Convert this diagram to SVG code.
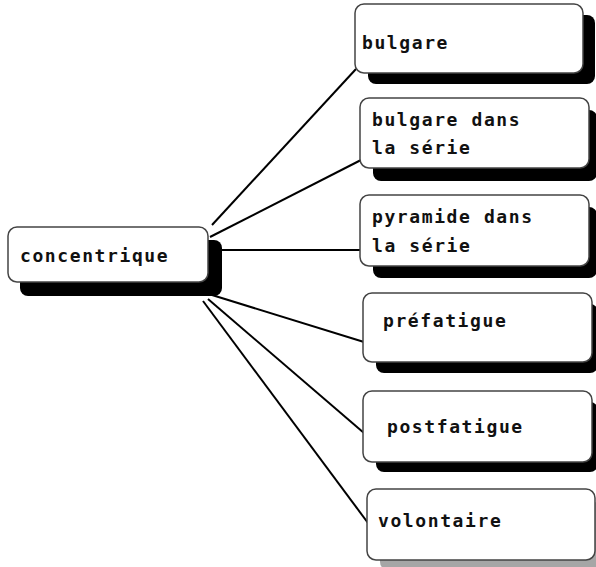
<svg xmlns="http://www.w3.org/2000/svg" width="596" height="567" viewBox="0 0 596 567">
<style>
.box{fill:#fff;stroke:#444;stroke-width:1.5}
.sh{fill:#000}
.t{font-family:"DejaVu Sans Mono","Liberation Mono",monospace;font-size:18px;font-weight:bold;letter-spacing:1.6px;fill:#111}
.c{stroke:#000;stroke-width:2;fill:none}
</style>
<rect width="596" height="567" fill="#fff"/>
<g id="connectors">
<line class="c" x1="212" y1="225" x2="356" y2="69"/>
<line class="c" x1="210" y1="237" x2="361" y2="160"/>
<line class="c" x1="208" y1="250" x2="361" y2="250"/>
<line class="c" x1="212" y1="295" x2="364" y2="342"/>
<line class="c" x1="208" y1="299" x2="364" y2="433"/>
<line class="c" x1="203" y1="301" x2="368" y2="523"/>
</g>
<g id="concentrique">
<rect class="sh" x="20" y="240" width="202" height="56" rx="8"/>
<rect class="box" x="8" y="227" width="200" height="55" rx="9"/>
<text class="t" x="20" y="262">concentrique</text>
</g>
<g id="bulgare">
<rect class="sh" x="368" y="15" width="227" height="69" rx="8"/>
<rect class="box" x="355" y="4" width="228" height="69" rx="9"/>
<text class="t" x="362" y="49">bulgare</text>
</g>
<g id="bulgare-dans">
<rect class="sh" x="373" y="110" width="224" height="71" rx="8"/>
<rect class="box" x="360" y="98" width="229" height="70" rx="9"/>
<text class="t" x="372" y="126">bulgare dans</text>
<text class="t" x="372" y="154">la série</text>
</g>
<g id="pyramide-dans">
<rect class="sh" x="373" y="207" width="224" height="71" rx="8"/>
<rect class="box" x="360" y="195" width="229" height="71" rx="9"/>
<text class="t" x="372" y="223">pyramide dans</text>
<text class="t" x="372" y="252">la série</text>
</g>
<g id="prefatigue">
<rect class="sh" x="376" y="304" width="222" height="69" rx="8"/>
<rect class="box" x="363" y="293" width="229" height="69" rx="9"/>
<text class="t" x="383" y="327">préfatigue</text>
</g>
<g id="postfatigue">
<rect class="sh" x="376" y="402" width="222" height="70" rx="8"/>
<rect class="box" x="363" y="391" width="229" height="71" rx="9"/>
<text class="t" x="387" y="433">postfatigue</text>
</g>
<g id="volontaire">
<rect class="sh" x="380" y="500" width="218" height="70" rx="8" fill-opacity="0.35"/>
<rect class="box" x="367" y="489" width="228" height="71" rx="9"/>
<text class="t" x="378" y="527">volontaire</text>
</g>
</svg>
